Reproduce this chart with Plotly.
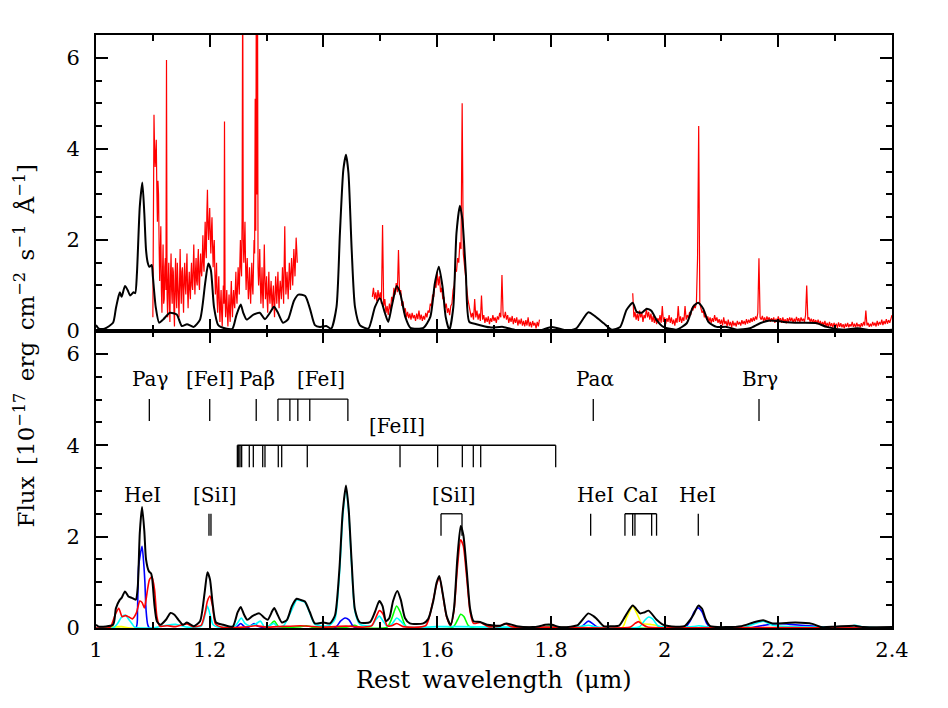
import plotly.graph_objects as go
from plotly.subplots import make_subplots

# ---------------- data: top panel model (black) ----------------
TOP_MODEL_WL = [1.000, 1.005, 1.015, 1.030, 1.035, 1.040, 1.042, 1.045, 1.051, 1.056, 1.060, 1.066, 1.069,
                1.072, 1.077, 1.0815, 1.085, 1.088, 1.091, 1.094, 1.098, 1.100, 1.105, 1.111, 1.118, 1.130,
                1.142, 1.151, 1.160, 1.172, 1.183, 1.192, 1.1975, 1.202, 1.2075, 1.215, 1.230, 1.240, 1.247,
                1.2545, 1.259, 1.265, 1.277, 1.288, 1.297, 1.306, 1.313, 1.320, 1.329, 1.338, 1.348, 1.356,
                1.368, 1.3765, 1.385, 1.394, 1.405, 1.4135, 1.423, 1.429, 1.435, 1.4397, 1.444, 1.4497, 1.4555,
                1.464, 1.479, 1.4907, 1.4995, 1.508, 1.514, 1.520, 1.529, 1.535, 1.544, 1.553, 1.576, 1.588,
                1.596, 1.603, 1.6095, 1.615, 1.6215, 1.6285, 1.634, 1.640, 1.6445, 1.6505, 1.6565, 1.669,
                1.693, 1.716, 1.739, 1.781, 1.8014, 1.828, 1.845, 1.866, 1.878, 1.893, 1.907, 1.922, 1.933,
                1.944, 1.951, 1.960, 1.9685, 1.977, 1.986, 1.998, 2.021, 2.039, 2.050, 2.059, 2.068, 2.077,
                2.0915, 2.109, 2.127, 2.150, 2.168, 2.185, 2.209, 2.238, 2.268, 2.285, 2.315, 2.339, 2.368, 2.400]
TOP_MODEL_FLUX = [0.13, 0.05, 0.05, 0.18, 0.50, 0.78, 0.85, 0.75, 0.99, 0.89, 0.78, 0.85, 0.83,
                  1.27, 2.73, 3.26, 2.58, 1.78, 1.50, 1.41, 1.45, 1.20, 0.53, 0.18, 0.25, 0.40,
                  0.36, 0.11, 0.15, 0.09, 0.25, 1.05, 1.48, 1.34, 0.53, 0.13, 0.05, 0.05, 0.35,
                  0.58, 0.40, 0.25, 0.36, 0.40, 0.26, 0.40, 0.53, 0.40, 0.18, 0.26, 0.66, 0.80,
                  0.77, 0.48, 0.13, 0.09, 0.11, 0.05, 0.53, 2.15, 3.54, 3.87, 3.47, 1.78, 0.53,
                  0.13, 0.05, 0.53, 0.72, 0.40, 0.20, 0.53, 0.99, 0.83, 0.31, 0.07, 0.07, 0.31,
                  1.05, 1.41, 0.97, 0.31, 0.02, 0.53, 2.15, 2.75, 2.44, 1.27, 0.20, 0.15,
                  0.08, 0.09, 0.02, 0.01, 0.09, 0.01, 0.06, 0.41, 0.32, 0.17, 0.03, 0.09, 0.46,
                  0.62, 0.42, 0.40, 0.49, 0.44, 0.24, 0.09, 0.03, 0.17, 0.53, 0.62, 0.49, 0.20,
                  0.09, 0.09, 0.03, 0.06, 0.17, 0.23, 0.20, 0.18, 0.17, 0.09, 0.03, 0.06, 0.01, 0.03]

# ---------------- data: top panel observed spectrum (red), three segments ----------------
OBS1_START, OBS1_STEP = 1.100, 0.001
OBS1_FLUX = [0.3, 2.5, 4.75, 4.0, 3.6, 3.9, 4.2, 3.1, 2.4, 3.3, 3.0, 1.9, 1.1, 1.7, 2.3, 0.9,
             0.4, 1.3, 1.9, 0.6, 0.7, 1.4, 1.6, 0.9, 5.95, 0.8, 0.3, 1.1, 1.5, 0.7, 0.2, 1.2,
             1.7, 0.9, 0.6, 1.4, 1.3, 0.5, 0.1, 1.1, 1.6, 0.8, 0.5, 1.5, 1.2, 0.6, 0.3, 1.1,
             1.8, 1.0, 0.6, 1.3, 1.4, 0.8, 0.4, 1.2, 1.5, 1.0, 0.8, 1.3, 1.7, 0.9, 0.5, 1.0,
             1.3, 0.9, 0.7, 1.2, 1.5, 1.0, 0.9, 1.4, 1.9, 1.2, 0.8, 1.3, 1.6, 1.1, 1.0, 1.5,
             1.8, 1.1, 0.9, 1.4, 1.7, 1.3, 1.2, 1.6, 2.1, 1.5, 1.3, 1.9, 2.4, 1.8, 1.6, 2.6,
             3.1, 2.3, 2.0, 2.4, 2.7, 2.1, 1.7, 2.2, 2.5, 1.9, 1.4, 1.8, 2.0, 1.3, 0.8, 1.1,
             1.5, 0.7, 0.4, 0.9, 1.2, 0.6, 0.2, 0.6, 0.9, 0.4, 0.1, 0.6, 1.0, 0.6, 4.6, 0.7,
             0.3, 0.6, 0.9, 0.4, 0.1, 0.5, 0.8, 0.4, 0.2, 0.7, 1.1, 0.6, 0.3, 0.7, 0.9, 0.6,
             0.5, 0.9, 1.3, 0.8, 0.6, 1.0, 1.4, 1.1, 0.8, 1.5, 2.0, 1.4, 1.2, 2.5, 8.0, 2.0,
             1.5, 1.9, 2.4, 1.5, 0.9, 1.3, 1.6, 1.1, 0.7, 1.0, 1.4, 0.9, 0.6, 1.1, 1.5, 1.0,
             0.8, 1.4, 2.0, 1.7, 5.1, 2.2, 8.0, 3.0, 8.0, 1.4, 1.0, 1.3, 1.8, 1.1, 0.6, 0.9,
             1.4, 0.8, 0.5, 1.2, 1.9, 1.2, 0.7, 0.9, 1.2, 0.7, 0.4, 0.9, 1.3, 0.8, 0.6, 0.9,
             1.1, 0.7, 0.5, 0.8, 1.0, 0.6, 0.3, 0.8, 1.2, 0.9, 0.6, 1.0, 1.3, 0.8, 0.5, 0.9,
             1.1, 0.9, 0.7, 1.0, 1.4, 1.0, 0.6, 1.5, 2.3, 1.4, 0.8, 1.0, 1.3, 1.0, 0.7, 1.1,
             1.5, 1.2, 0.9, 1.3, 1.6, 1.3, 1.0, 1.4, 1.8, 1.5, 1.2, 1.6, 2.05, 1.8, 1.5]
OBS2_START, OBS2_STEP = 1.486, 0.002
OBS2_FLUX = [0.75, 0.95, 0.70, 0.85, 0.65, 0.90, 0.70, 0.85, 0.60, 2.33, 0.55, 0.70, 0.40, 0.55, 0.35,
             0.60, 0.45, 0.75, 0.65, 0.95, 0.80, 1.05, 0.85, 1.78, 0.80, 0.90, 0.55, 0.65, 0.40, 0.50,
             0.30, 0.42, 0.28, 0.38, 0.25, 0.40, 0.28, 0.35, 0.22, 0.38, 0.26, 0.45, 0.25, 0.36, 0.22,
             0.33, 0.25, 0.40, 0.30, 0.45, 0.40, 0.60, 0.55, 0.80, 0.75, 1.05, 0.95, 1.30, 1.00, 1.20,
             0.85, 0.95, 0.70, 0.75, 0.50, 0.60, 0.40, 0.50, 0.35, 0.55, 0.60, 0.90, 1.00, 1.35, 1.30,
             1.60, 1.50, 1.95, 1.80, 5.00, 1.70, 1.40, 1.10, 0.95, 0.70, 0.55, 0.45, 0.30, 0.40, 0.25,
             0.70, 0.30, 0.45, 0.25, 0.38, 0.22, 0.78, 0.25, 0.35, 0.18, 0.30, 0.20, 0.32, 0.15, 0.28,
             0.20, 0.35, 0.22, 0.30, 0.18, 0.32, 0.25, 0.40, 0.30, 1.23, 0.35, 0.28, 0.42, 0.25, 0.35,
             0.18, 0.30, 0.20, 0.33, 0.15, 0.28, 0.18, 0.30, 0.12, 0.25, 0.15, 0.27, 0.12, 0.22, 0.10,
             0.24, 0.12, 0.30, 0.10, 0.20, 0.08, 0.22, 0.12, 0.18, 0.06, 0.20, 0.10, 0.25]
OBS3_START, OBS3_STEP = 1.944, 0.002
OBS3_FLUX = [0.83, 0.30, 0.42, 0.25, 0.38, 0.22, 0.45, 0.30, 0.40, 0.20, 0.35, 0.28, 0.50, 0.30, 0.42,
             0.25, 0.38, 0.20, 0.33, 0.18, 0.30, 0.15, 0.28, 0.20, 0.35, 0.18, 0.55, 0.20, 0.30, 0.15,
             0.28, 0.20, 0.35, 0.18, 0.30, 0.15, 0.25, 0.12, 0.28, 0.18, 0.55, 0.20, 0.32, 0.18, 0.30,
             0.22, 0.55, 0.25, 0.35, 0.28, 0.42, 0.35, 0.50, 0.45, 0.58, 0.50, 0.62, 1.60, 4.50, 0.60,
             0.50, 0.40, 0.45, 0.30, 0.38, 0.25, 0.32, 0.20, 0.30, 0.18, 0.28, 0.20, 0.35, 0.22, 0.30,
             0.18, 0.26, 0.15, 0.25, 0.12, 0.30, 0.15, 0.22, 0.10, 0.25, 0.12, 0.20, 0.08, 0.22, 0.12,
             0.18, 0.10, 0.22, 0.14, 0.20, 0.12, 0.24, 0.15, 0.22, 0.14, 0.26, 0.16, 0.25, 0.18, 0.28,
             0.20, 0.30, 0.22, 0.32, 0.25, 0.40, 1.60, 0.30, 0.25, 0.33, 0.22, 0.30, 0.20, 0.32, 0.24,
             0.30, 0.20, 0.28, 0.22, 0.30, 0.18, 0.27, 0.20, 0.32, 0.22, 0.28, 0.18, 0.30, 0.20, 0.26,
             0.17, 0.28, 0.20, 0.30, 0.22, 0.29, 0.18, 0.27, 0.20, 0.31, 0.21, 0.28, 0.19, 0.30, 0.22,
             0.27, 0.20, 0.35, 1.00, 0.25, 0.30, 0.20, 0.27, 0.18, 0.26, 0.17, 0.24, 0.15, 0.25, 0.14,
             0.22, 0.12, 0.20, 0.13, 0.22, 0.10, 0.18, 0.09, 0.20, 0.10, 0.17, 0.08, 0.18, 0.10, 0.16,
             0.07, 0.19, 0.09, 0.17, 0.08, 0.15, 0.06, 0.16, 0.09, 0.18, 0.08, 0.15, 0.10, 0.20, 0.09,
             0.16, 0.08, 0.18, 0.10, 0.15, 0.08, 0.17, 0.10, 0.20, 0.12, 0.45, 0.12, 0.18, 0.09, 0.16,
             0.10, 0.20, 0.12, 0.18, 0.10, 0.22, 0.12, 0.20, 0.14, 0.25, 0.13, 0.22, 0.15, 0.26, 0.16,
             0.24, 0.18, 0.30, 0.35]

# ---------------- data: bottom panel total model and components ----------------
BOT_TOTAL_WL = [1.000, 1.005, 1.030, 1.035, 1.042, 1.045, 1.051, 1.057, 1.063, 1.070, 1.0735, 1.077, 1.081,
                1.085, 1.088, 1.093, 1.097, 1.099, 1.103, 1.107, 1.113, 1.123, 1.131, 1.138, 1.145, 1.153,
                1.160, 1.172, 1.183, 1.191, 1.196, 1.2005, 1.205, 1.211, 1.224, 1.2405, 1.249, 1.2545,
                1.2605, 1.266, 1.275, 1.287, 1.2965, 1.302, 1.310, 1.3135, 1.318, 1.327, 1.336, 1.3445,
                1.353, 1.3588, 1.3675, 1.376, 1.385, 1.400, 1.4116, 1.4204, 1.428, 1.4338, 1.4397, 1.4444,
                1.4497, 1.4555, 1.4643, 1.482, 1.4906, 1.4983, 1.504, 1.510, 1.516, 1.5225, 1.5299, 1.536,
                1.5434, 1.552, 1.5756, 1.5844, 1.5932, 1.599, 1.6038, 1.6096, 1.6167, 1.6237, 1.6296,
                1.6355, 1.6414, 1.6460, 1.652, 1.658, 1.664, 1.6756, 1.688, 1.711, 1.722, 1.740, 1.7686,
                1.780, 1.790, 1.802, 1.815, 1.835, 1.848, 1.8658, 1.875, 1.880, 1.893, 1.907, 1.920, 1.931,
                1.944, 1.957, 1.964, 1.972, 1.986, 1.998, 2.020, 2.035, 2.045, 2.052, 2.0593, 2.066, 2.072,
                2.080, 2.110, 2.135, 2.156, 2.1735, 2.190, 2.230, 2.260, 2.275, 2.300, 2.3337, 2.350, 2.400]
BOT_TOTAL_FLUX = [0.07, 0.03, 0.07, 0.43, 0.62, 0.66, 0.80, 0.69, 0.66, 0.62, 0.91, 2.08, 2.65,
                  2.12, 1.50, 1.24, 1.19, 1.06, 0.48, 0.15, 0.07, 0.18, 0.33, 0.29, 0.18, 0.07,
                  0.12, 0.04, 0.15, 0.77, 1.22, 1.06, 0.55, 0.12, 0.07, 0.03, 0.34, 0.46,
                  0.29, 0.18, 0.26, 0.32, 0.22, 0.18, 0.37, 0.44, 0.33, 0.12, 0.18, 0.48,
                  0.64, 0.62, 0.58, 0.35, 0.10, 0.12, 0.10, 0.28, 1.27, 2.52, 3.12, 2.60,
                  1.43, 0.40, 0.12, 0.13, 0.35, 0.59, 0.48, 0.15, 0.22, 0.59, 0.81, 0.62,
                  0.22, 0.10, 0.10, 0.20, 0.59, 0.99, 1.14, 0.77, 0.26, 0.07, 0.42,
                  1.52, 2.23, 2.04, 1.27, 0.42, 0.15, 0.13, 0.07, 0.05, 0.10, 0.04, 0.02,
                  0.04, 0.07, 0.07, 0.02, 0.03, 0.07, 0.32, 0.26, 0.21, 0.04, 0.04, 0.05, 0.26,
                  0.49, 0.32, 0.34, 0.38, 0.18, 0.07, 0.03, 0.04, 0.18, 0.32, 0.49, 0.42, 0.20,
                  0.04, 0.02, 0.04, 0.12, 0.17, 0.10, 0.12, 0.09, 0.02, 0.03, 0.05, 0.02, 0.02]

BLUE_WL = [1.000, 1.070, 1.073, 1.075, 1.081, 1.084, 1.086, 1.088, 1.091, 1.094, 1.245, 1.2545, 1.262,
           1.270, 1.278, 1.285, 1.300, 1.420, 1.430, 1.438, 1.445, 1.452, 1.460, 1.850, 1.866, 1.875,
           1.885, 2.035, 2.045, 2.052, 2.059, 2.066, 2.074, 2.082, 2.150, 2.170, 2.200, 2.220, 2.260,
           2.300, 2.400]
BLUE_FLUX = [0.0, 0.0, 0.40, 1.35, 1.79, 1.40, 1.00, 0.40, 0.07, 0.0, 0.0, 0.10, 0.02,
             0.03, 0.10, 0.04, 0.0, 0.0, 0.15, 0.22, 0.18, 0.04, 0.0, 0.0, 0.15, 0.08,
             0.0, 0.0, 0.15, 0.35, 0.44, 0.35, 0.10, 0.0, 0.0, 0.05, 0.10, 0.08, 0.04,
             0.0, 0.0]

RED_WL = [1.000, 1.025, 1.034, 1.040, 1.046, 1.052, 1.058, 1.064, 1.071, 1.077, 1.081, 1.085, 1.088,
          1.094, 1.0985, 1.103, 1.107, 1.112, 1.125, 1.140, 1.160, 1.170, 1.185, 1.192, 1.196, 1.2005,
          1.205, 1.210, 1.220, 1.260, 1.280, 1.300, 1.360, 1.400, 1.440, 1.470, 1.485, 1.4983, 1.505,
          1.512, 1.520, 1.529, 1.540, 1.580, 1.592, 1.599, 1.604, 1.6096, 1.6167, 1.6237, 1.6296,
          1.6355, 1.6414, 1.646, 1.652, 1.658, 1.664, 1.676, 1.690, 1.710, 1.719, 1.730, 1.800, 1.940,
          1.948, 1.954, 1.961, 1.970, 2.100, 2.400]
RED_FLUX = [0.0, 0.02, 0.30, 0.43, 0.25, 0.27, 0.24, 0.20, 0.33, 0.59, 0.56, 0.44, 0.62,
            1.06, 1.12, 0.84, 0.26, 0.04, 0.05, 0.03, 0.09, 0.03, 0.06, 0.35, 0.59, 0.70,
            0.48, 0.09, 0.02, 0.02, 0.05, 0.02, 0.05, 0.02, 0.04, 0.02, 0.05, 0.38, 0.30,
            0.05, 0.05, 0.10, 0.03, 0.05, 0.55, 0.95, 1.12, 0.75, 0.24, 0.05, 0.38,
            1.30, 1.93, 1.80, 1.10, 0.35, 0.10, 0.12, 0.03, 0.04, 0.10, 0.03, 0.02, 0.02,
            0.10, 0.14, 0.08, 0.02, 0.01, 0.0]

CYAN_WL = [1.000, 1.030, 1.038, 1.045, 1.052, 1.058, 1.063, 1.068, 1.100, 1.120, 1.140, 1.160, 1.185,
           1.192, 1.196, 1.2005, 1.206, 1.215, 1.245, 1.2555, 1.262, 1.270, 1.280, 1.289, 1.296, 1.305,
           1.313, 1.320, 1.330, 1.3445, 1.353, 1.3588, 1.3675, 1.376, 1.385, 1.410, 1.4204, 1.428,
           1.4338, 1.4397, 1.4444, 1.4497, 1.4555, 1.4643, 1.485, 1.492, 1.4983, 1.505, 1.512, 1.520,
           1.529, 1.536, 1.545, 1.580, 1.600, 1.640, 1.700, 1.850, 1.866, 1.880, 1.955, 1.966, 1.972,
           1.979, 1.988, 2.000, 2.050, 2.060, 2.070, 2.140, 2.160, 2.1735, 2.190, 2.220, 2.270, 2.320,
           2.335, 2.350, 2.400]
CYAN_FLUX = [0.0, 0.0, 0.10, 0.24, 0.28, 0.18, 0.10, 0.02, 0.0, 0.05, 0.08, 0.02, 0.04,
             0.30, 0.48, 0.30, 0.07, 0.02, 0.05, 0.22, 0.10, 0.05, 0.08, 0.15, 0.03, 0.05,
             0.10, 0.02, 0.05, 0.40, 0.62, 0.60, 0.56, 0.33, 0.08, 0.05, 0.20, 1.15,
             2.40, 3.07, 2.52, 1.35, 0.36, 0.08, 0.05, 0.18, 0.26, 0.15, 0.04, 0.08,
             0.22, 0.15, 0.03, 0.02, 0.03, 0.03, 0.02, 0.03, 0.06, 0.02, 0.02, 0.18, 0.24,
             0.20, 0.05, 0.02, 0.03, 0.05, 0.03, 0.02, 0.10, 0.15, 0.06, 0.03, 0.02, 0.02,
             0.06, 0.02, 0.0]

GREEN_WL = [1.000, 1.300, 1.3135, 1.322, 1.360, 1.370, 1.380, 1.440, 1.455, 1.465, 1.512, 1.520, 1.5287,
            1.535, 1.544, 1.552, 1.628, 1.636, 1.6414, 1.647, 1.655, 1.665, 1.790, 1.800, 1.810, 2.400]
GREEN_FLUX = [0.0, 0.0, 0.15, 0.02, 0.03, 0.05, 0.02, 0.02, 0.06, 0.01, 0.02, 0.20, 0.48,
              0.35, 0.05, 0.0, 0.02, 0.18, 0.30, 0.25, 0.05, 0.0, 0.02, 0.05, 0.02, 0.0]

YELLOW_WL = [1.000, 1.045, 1.060, 1.925, 1.933, 1.944, 1.952, 1.960, 1.975, 1.985, 1.995, 2.400]
YELLOW_FLUX = [0.0, 0.03, 0.0, 0.0, 0.22, 0.47, 0.30, 0.10, 0.08, 0.06, 0.0, 0.0]

# ---------------- data: line identifications ----------------
ROW1_LABELS = ["Paγ", "[FeI]", "Paβ", "[FeI]", "Paα", "Brγ"]
ROW1_LABEL_WL = [1.095, 1.200, 1.283, 1.396, 1.877, 2.168]
ROW1_SINGLE_WL = [1.0938, 1.2000, 1.2818, 1.8746, 2.1661]
FEI_GROUP_WL = [1.3200, 1.3410, 1.3550, 1.3760, 1.4430]
FEII_LABEL_WL = 1.530
FEII_GROUP_WL = [1.2486, 1.2510, 1.2533, 1.2562, 1.2696, 1.2767, 1.2932, 1.2972, 1.3206, 1.3266,
                 1.3716, 1.5347, 1.6009, 1.6443, 1.6636, 1.6766, 1.8085]
ROW2_LABELS = ["HeI", "[SiI]", "[SiI]", "HeI", "CaI", "HeI"]
ROW2_LABEL_WL = [1.081, 1.209, 1.6296, 1.879, 1.958, 2.0587]
ROW2_SINGLE_WL = [1.1987, 1.2022, 1.8700, 2.0593]
SII_GROUP_WL = [1.6068, 1.6437]
CAI_GROUP_WL = [1.9303, 1.9439, 1.9479, 1.9773, 1.9859]

ROW1_TEXT_Y, ROW1_TOP, ROW1_BOT = 5.45, 5.01, 4.53
FEII_TEXT_Y, FEII_TOP, FEII_BOT = 4.43, 4.00, 3.52
ROW2_TEXT_Y, ROW2_TOP, ROW2_BOT = 2.92, 2.50, 2.02

X_TICKS = [1.0, 1.2, 1.4, 1.6, 1.8, 2.0, 2.2, 2.4]
X_TICK_TEXT = ["1", "1.2", "1.4", "1.6", "1.8", "2", "2.2", "2.4"]
Y_TICKS = [0, 2, 4, 6]

X_TITLE = "Rest\u2002wavelength\u2002(μm)"
Y_TITLE = ("Flux\u2002[10<sup>−17</sup>\u2002erg\u2002cm<sup>−2</sup>\u2002s<sup>−1</sup>"
           "\u2002Å<sup>−1</sup>]")

FONT = "DejaVu Serif"

fig = make_subplots(rows=2, cols=1, shared_xaxes=True, vertical_spacing=0.0)


def seg_wl(start, step, vals):
    return [round(start + i * step, 4) for i in range(len(vals))]


for start, step, vals in [(OBS1_START, OBS1_STEP, OBS1_FLUX), (OBS2_START, OBS2_STEP, OBS2_FLUX),
                          (OBS3_START, OBS3_STEP, OBS3_FLUX)]:
    fig.add_trace(go.Scatter(x=seg_wl(start, step, vals), y=vals, mode="lines",
                             line=dict(color="#ff0000", width=1.2), hoverinfo="skip"), row=1, col=1)

fig.add_trace(go.Scatter(x=TOP_MODEL_WL, y=TOP_MODEL_FLUX, mode="lines",
                         line=dict(color="black", width=2, shape="spline", smoothing=0.6)), row=1, col=1)

for wl, fl, col in [(YELLOW_WL, YELLOW_FLUX, "#ffff00"), (GREEN_WL, GREEN_FLUX, "#00ff00"),
                    (BLUE_WL, BLUE_FLUX, "#0000ff"), (CYAN_WL, CYAN_FLUX, "#00ffff"),
                    (RED_WL, RED_FLUX, "#ff0000")]:
    fig.add_trace(go.Scatter(x=wl, y=fl, mode="lines",
                             line=dict(color=col, width=1.6, shape="spline", smoothing=0.6)), row=2, col=1)

fig.add_trace(go.Scatter(x=BOT_TOTAL_WL, y=BOT_TOTAL_FLUX, mode="lines",
                         line=dict(color="black", width=2, shape="spline", smoothing=0.6)), row=2, col=1)

# marker lines
lx, ly = [], []


def add_single(wls, top, bot):
    for w in wls:
        lx.extend([w, w, None])
        ly.extend([top, bot, None])


def add_group(wls, top, bot):
    lx.extend([wls[0], wls[-1], None])
    ly.extend([top, top, None])
    add_single(wls, top, bot)


add_single(ROW1_SINGLE_WL, ROW1_TOP, ROW1_BOT)
add_group(FEI_GROUP_WL, ROW1_TOP, ROW1_BOT)
add_group(FEII_GROUP_WL, FEII_TOP, FEII_BOT)
add_single(ROW2_SINGLE_WL, ROW2_TOP, ROW2_BOT)
add_group(SII_GROUP_WL, ROW2_TOP, ROW2_BOT)
add_group(CAI_GROUP_WL, ROW2_TOP, ROW2_BOT)
fig.add_trace(go.Scatter(x=lx, y=ly, mode="lines", line=dict(color="black", width=1.3)), row=2, col=1)

annos = []
for t, w in zip(ROW1_LABELS, ROW1_LABEL_WL):
    annos.append(dict(x=w, y=ROW1_TEXT_Y, text=t))
annos.append(dict(x=FEII_LABEL_WL, y=FEII_TEXT_Y, text="[FeII]"))
for t, w in zip(ROW2_LABELS, ROW2_LABEL_WL):
    annos.append(dict(x=w, y=ROW2_TEXT_Y, text=t))
for a in annos:
    a.update(xref="x2", yref="y2", showarrow=False, xanchor="center", yanchor="middle",
             font=dict(family=FONT, size=20, color="black"))

annos.append(dict(xref="paper", yref="paper", x=0.5, y=-0.088, showarrow=False,
                  text=X_TITLE, xanchor="center", yanchor="middle",
                  font=dict(family=FONT, size=24, color="black")))
annos.append(dict(xref="paper", yref="paper", x=-0.089, y=0.475, showarrow=False, textangle=-90,
                  text=Y_TITLE, xanchor="center", yanchor="middle",
                  font=dict(family=FONT, size=23, color="black")))

axis_common = dict(showline=True, linecolor="black", linewidth=2, mirror="ticks", ticks="inside",
                   ticklen=12, tickwidth=1.5, tickcolor="black", showgrid=False, zeroline=False,
                   tickfont=dict(family=FONT, size=21, color="black"))

fig.update_xaxes(range=[1.0, 2.4], tickvals=X_TICKS, ticktext=X_TICK_TEXT,
                 minor=dict(dtick=0.1, tick0=1.0, ticks="inside", ticklen=6, tickwidth=1.5, tickcolor="black"),
                 **axis_common)
fig.update_xaxes(showticklabels=False, row=1, col=1)
fig.update_xaxes(ticklabelstandoff=2, row=2, col=1)
fig.update_yaxes(range=[0, 6.5], tickvals=Y_TICKS,
                 minor=dict(dtick=0.5, tick0=0, ticks="inside", ticklen=6, tickwidth=1.5, tickcolor="black"),
                 ticklabelstandoff=10, **axis_common)

PLOT_H = 593
SPLIT = 297 / PLOT_H
fig.update_yaxes(domain=[SPLIT, 1.0], row=1, col=1)
fig.update_yaxes(domain=[0.0, SPLIT], row=2, col=1)

# the page body adds an 8px offset; margins compensate so the plot area sits at 96..892 x 35..628
fig.update_layout(width=948, height=708, margin=dict(l=88, r=64, t=27, b=88),
                  paper_bgcolor="white", plot_bgcolor="white", showlegend=False,
                  annotations=annos, hovermode=False)

fig.write_html("out.html")
